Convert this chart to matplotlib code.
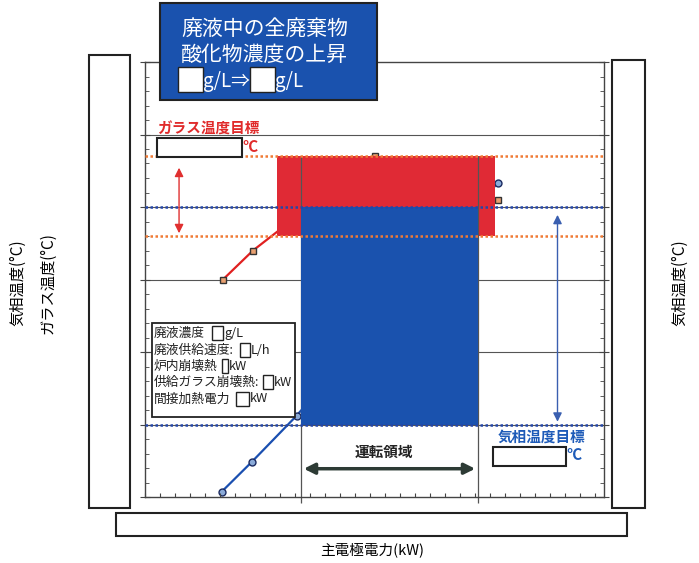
import matplotlib
matplotlib.use("Agg")
import matplotlib.pyplot as plt
from matplotlib.patches import Rectangle
from matplotlib.ticker import MultipleLocator

plt.rcParams['font.family'] = ['Noto Sans CJK JP', 'DejaVu Sans']

# --- data (axis units: x = main electrode power, y = temperature, no scale shown)
red_x = [5.2, 7.2, 15.3, 23.5]      # glass temperature series
red_y = [3.0, 3.4, 4.7, 4.1]
blue_x = [5.1, 7.1, 10.1, 23.5]     # gas phase temperature series
blue_y = [0.07, 0.48, 1.12, 4.33]
glass_band_x = [8.8, 23.3]
glass_band_y = [3.6, 4.7]
gas_band_y = [1.0, 4.0]
op_range = [10.4, 22.2]

legend_rows = ['廃液濃度', '廃液供給速度:', '炉内崩壊熱', '供給ガラス崩壊熱:', '間接加熱電力']
legend_units = ['g/L', 'L/h', 'kW', 'kW', 'kW']

RED = '#e02a35'
BLUE = '#1a52ae'
ORANGE = '#f07a35'
DOTBLUE = '#2446a8'
GRID = '#555555'

W, H = 699, 563
fig = plt.figure(figsize=(W / 100, H / 100), dpi=100)
ax = fig.add_axes([145 / W, 1 - 497 / H, 459 / W, 435 / H])
ax.set_xlim(0, 30.6)
ax.set_ylim(0, 6)

for y in range(1, 6):
    ax.axhline(y, color=GRID, lw=0.8, zorder=1)

# series (partly hidden behind the bands)
ax.plot(red_x, red_y, color='#e02020', lw=1.6, marker='s', ms=5,
        mfc='#e8a070', mec='#333333', mew=1, zorder=1.5)
ax.plot(blue_x, blue_y, color='#1a4fb0', lw=1.6, marker='o', ms=5,
        mfc='#8aaad8', mec='#1a2a60', mew=1, zorder=1.5)

ax.fill_between(glass_band_x, glass_band_y[0], glass_band_y[1], color=RED, lw=0, zorder=2)
ax.vlines(op_range, -0.08, glass_band_y[1], colors=GRID, lw=0.9, zorder=2.5, clip_on=False)
ax.fill_between(op_range, gas_band_y[0], gas_band_y[1], color=BLUE, lw=0, zorder=3)

for y in glass_band_y:
    ax.axhline(y, color=ORANGE, lw=1.8, ls=(0, (1, 1)), zorder=4)
for y in gas_band_y:
    ax.axhline(y, color=DOTBLUE, lw=1.8, ls=(0, (1, 1)), zorder=4)

# arrows
ax.annotate('', xy=(2.27, 4.58), xytext=(2.27, 3.6),
            arrowprops=dict(arrowstyle='<|-|>', color='#e03030', lw=1, mutation_scale=13), zorder=5)
ax.annotate('', xy=(27.5, 3.93), xytext=(27.5, 1.0),
            arrowprops=dict(arrowstyle='<|-|>', color='#3a5fb0', lw=1, mutation_scale=13), zorder=5)
ax.annotate('', xy=(op_range[0], 0.39), xytext=(op_range[1], 0.39),
            arrowprops=dict(arrowstyle='<|-|>', color='#2d3b35', lw=2.5, mutation_scale=16), zorder=5)
ax.text(sum(op_range) / 2 - 0.4, 0.62, '運転領域', ha='center', va='center',
        fontsize=10.5, fontweight='bold', color='#222222')

# ticks
ax.xaxis.set_major_locator(MultipleLocator(1))
ax.yaxis.set_major_locator(MultipleLocator(1))
ax.yaxis.set_minor_locator(MultipleLocator(0.2))
ax.tick_params(axis='x', which='major', direction='in', length=3, color='#444', top=False,
               labelbottom=False)
ax.tick_params(axis='y', which='major', direction='inout', length=7, color='#444',
               right=True, labelleft=False)
ax.tick_params(axis='y', which='minor', direction='in', length=3, color='#444', right=True)
for s in ax.spines.values():
    s.set_color('#444444')
    s.set_linewidth(1)

# overlay in pixel coordinates for the boxes and labels
ov = fig.add_axes([0, 0, 1, 1], zorder=5)
ov.set_xlim(0, W)
ov.set_ylim(H, 0)
ov.axis('off')
ov.patch.set_alpha(0)


def box(x, y, w, h, fc='white', lw=1.3):
    ov.add_patch(Rectangle((x, y), w, h, fc=fc, ec='#222222', lw=lw))


box(89, 55, 41, 453, lw=1.5)
box(612, 60, 33, 448, lw=1.5)
box(116, 513, 511, 23, lw=1.5)

# title box
box(160, 3, 217, 97, fc=BLUE, lw=1.5)
ov.text(181, 29, '廃液中の全廃棄物', color='white', fontsize=15, va='center')
ov.text(181, 55, '酸化物濃度の上昇', color='white', fontsize=15, va='center')
box(178, 67, 25, 25, lw=1)
box(250, 67, 25, 25, lw=1)
ov.text(203, 81, 'g/L⇒', color='white', fontsize=13.5, va='center')
ov.text(275, 81, 'g/L', color='white', fontsize=13.5, va='center')

# targets
ov.text(157, 129, 'ガラス温度目標', color='#e02a2a', fontsize=10.5, fontweight='bold', va='center')
box(157, 138, 85, 19, lw=1.5)
ov.text(242, 147, '°C', color='#e02a2a', fontsize=11, fontweight='bold', va='center')
ov.text(498, 437, '気相温度目標', color='#1e5bb8', fontsize=10.5, fontweight='bold', va='center')
box(493, 447, 73, 19, lw=1.5)
ov.text(566, 455, '°C', color='#1e5bb8', fontsize=11, fontweight='bold', va='center')

# conditions box
box(152, 323, 143, 94, lw=1.3)
row_y = [333, 350, 366, 382, 399]
box_x = [212, 240, 222, 263, 236]
box_w = [11, 10, 6, 10, 13]
for lab, unit, y, bx, bw in zip(legend_rows, legend_units, row_y, box_x, box_w):
    ov.text(154, y, lab, fontsize=9.2, va='center', color='#222222')
    box(bx, y - 7, bw, 14, lw=1)
    ov.text(bx + bw + 1, y, unit, fontsize=9.2, va='center', color='#222222')

# axis labels
ov.text(18, 283, '気相温度(°C)', rotation=90, ha='center', va='center', fontsize=11)
ov.text(48, 283, 'ガラス温度(°C)', rotation=90, ha='center', va='center', fontsize=11)
ov.text(680, 283, '気相温度(°C)', rotation=90, ha='center', va='center', fontsize=11)
ov.text(372, 550, '主電極電力(kW)', ha='center', va='center', fontsize=10.5)

fig.savefig('out.png', dpi=100)
